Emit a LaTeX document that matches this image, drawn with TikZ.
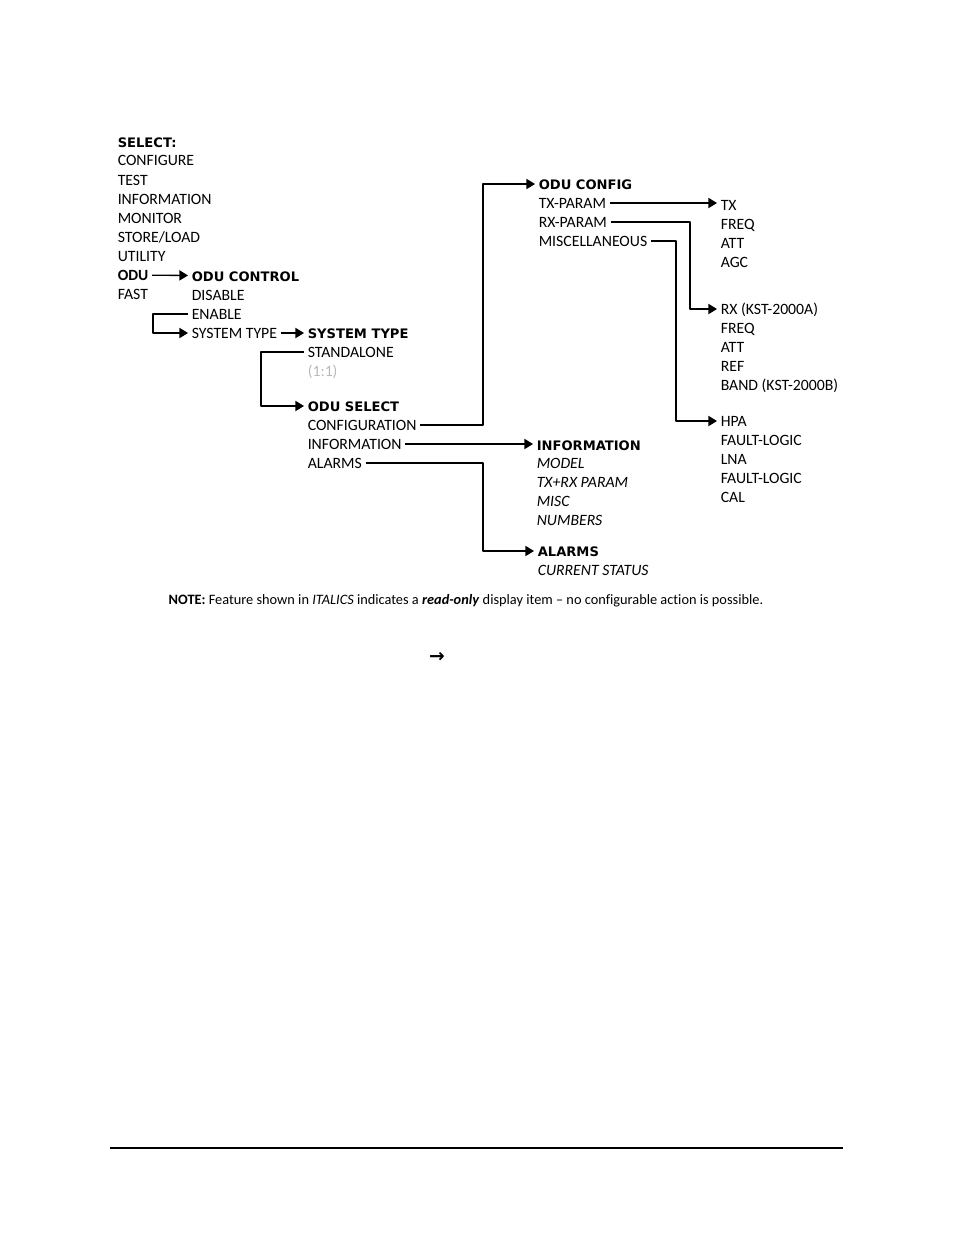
\documentclass[tikz,border=0pt]{standalone}
\usepackage{fontspec}
\setmainfont{Carlito}[Ligatures=NoCommon]
\newfontfamily\hdfont{DejaVu Sans}
\usetikzlibrary{arrows.meta}
\tikzset{
  item/.style={anchor=west, inner xsep=2pt, inner ysep=1pt, text height=8.5pt, text depth=1.5pt},
  head/.style={item, font=\hdfont\bfseries\fontsize{8.4}{10}\selectfont},
  ro/.style={item, font=\itshape\fontsize{10.1}{12}\selectfont},
}
\begin{document}
\begin{tikzpicture}[x=0.6415pt, y=-0.6415pt, font=\fontsize{10.1}{12}\selectfont, line join=round, line width=0.85pt, >={Triangle[length=5.5pt,width=6.5pt]}]
\useasboundingbox (0,0) rectangle (954,1235);
\def\ca{114} \def\cb{188} \def\cc{304} \def\cd{535} \def\ce{717} % columns
% main menu
\node[head] (sel) at (\ca,142) {SELECT:};
\node[item] (cfgr) at (\ca,160) {CONFIGURE};
\node[item] (test) at (\ca,180) {TEST};
\node[item] (info) at (\ca,199) {INFORMATION};
\node[item] (mon) at (\ca,218) {MONITOR};
\node[item] (store) at (\ca,237) {STORE/LOAD};
\node[item] (util) at (\ca,256) {UTILITY};
\node[item, font=\bfseries] (odu) at (\ca,275) {ODU};
\node[item] (fast) at (\ca,294) {FAST};
% odu control
\node[head] (oductl) at (\cb,276) {ODU CONTROL};
\node[item] (dis) at (\cb,295) {DISABLE};
\node[item] (ena) at (\cb,314) {ENABLE};
\node[item] (systype) at (\cb,333) {SYSTEM TYPE};
% system type / odu select
\node[head] (sysT) at (\cc,333) {SYSTEM TYPE};
\node[item] (stand) at (\cc,352) {STANDALONE};
\node[item, text=gray!55] (redun) at (\cc,371) {(1:1)};
\node[head] (odusel) at (\cc,406) {ODU SELECT};
\node[item] (conf) at (\cc,425) {CONFIGURATION};
\node[item] (inform) at (\cc,444) {INFORMATION};
\node[item] (alarms) at (\cc,463) {ALARMS};
% odu config
\node[head] (oducfg) at (\cd,184) {ODU CONFIG};
\node[item] (txp) at (\cd,203) {TX-PARAM};
\node[item] (rxp) at (\cd,222) {RX-PARAM};
\node[item] (misc) at (\cd,241) {MISCELLANEOUS};
% information / alarms
\node[head] (infohd) at (\cd-2,445) {INFORMATION};
\node[ro] (model) at (\cd-2,463) {MODEL};
\node[ro] (txrx) at (\cd-2,482) {TX+RX PARAM};
\node[ro] (miscro) at (\cd-2,501) {MISC};
\node[ro] (numbers) at (\cd-2,520) {NUMBERS};
\node[head] (alarmhd) at (\cd-1,551) {ALARMS};
\node[ro] (curstat) at (\cd-1,570) {CURRENT STATUS};
% parameters
\node[item] (tx) at (\ce,205) {TX};
\node[item] (freqA) at (\ce,224) {FREQ};
\node[item] (attA) at (\ce,243) {ATT};
\node[item] (agc) at (\ce,262) {AGC};
\node[item] (rx) at (\ce,309) {RX (KST-2000A)};
\node[item] (freqB) at (\ce,328) {FREQ};
\node[item] (attB) at (\ce,347) {ATT};
\node[item] (ref) at (\ce,366) {REF};
\node[item] (band) at (\ce,385) {BAND (KST-2000B)};
\node[item] (hpa) at (\ce,421) {HPA};
\node[item] (flA) at (\ce,440) {FAULT-LOGIC};
\node[item] (lna) at (\ce,459) {LNA};
\node[item] (flB) at (\ce,478) {FAULT-LOGIC};
\node[item] (cal) at (\ce,497) {CAL};
% bus lines
\coordinate (brA) at (153,0);
\coordinate (brB) at (261,0);
\coordinate (busC) at (483,0);
\coordinate (busR) at (690,0);
\coordinate (busM) at (676,0);
\draw[->] (odu) -- (oductl);
\draw[->] (ena.west) -- (ena.west -| brA) |- (systype.west);
\draw[->] (systype) -- (sysT);
\draw[->] (stand.west) -- (stand.west -| brB) |- (odusel.west);
\draw[->] (conf.east) -- (conf.east -| busC) |- (oducfg.west);
\draw[->] (inform.east) -- (inform.east -| infohd.west);
\draw[->] (alarms.east) -- (alarms.east -| busC) |- (alarmhd.west);
\draw[->] (txp.east) -- (txp.east -| tx.west);
\draw[->] (rxp.east) -- (rxp.east -| busR) |- (rx.west);
\draw[->] (misc.east) -- (misc.east -| busM) |- (hpa.west);
% note
\node[anchor=west, inner sep=0pt, font=\fontsize{9.2}{11}\selectfont] (note) at (168,601) {\textbf{NOTE:} Feature shown in \textit{ITALICS} indicates a \textbf{\textit{read-only}} display item -- no configurable action is possible.};
\node[font=\hdfont\bfseries\fontsize{12}{14}\selectfont] (sym) at (437,657) {→};
\coordinate (ruleL) at (110,1148);
\coordinate (ruleR) at (843,1148);
\draw[line width=1pt] (ruleL) -- (ruleR);
\end{tikzpicture}
\end{document}
